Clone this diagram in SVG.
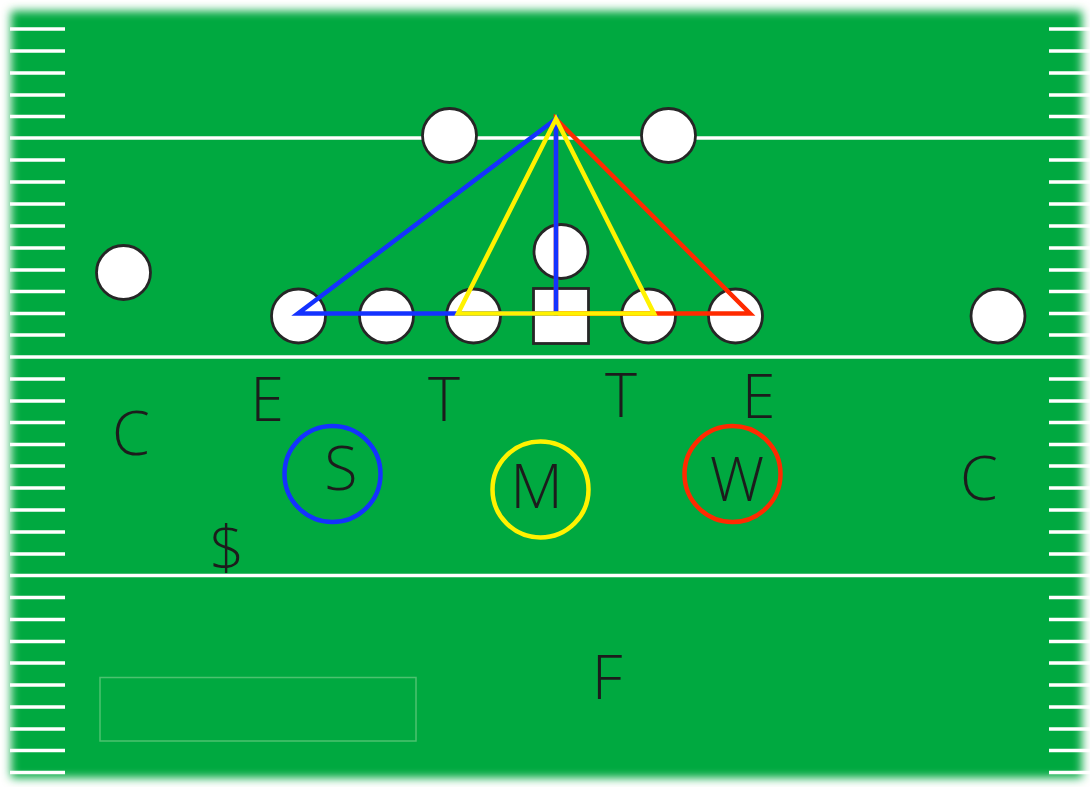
<svg xmlns="http://www.w3.org/2000/svg" width="1090" height="787" viewBox="0 0 1090 787">
<defs>
<filter id="blur" x="-5%" y="-5%" width="110%" height="110%"><feGaussianBlur stdDeviation="5"/></filter>
<style>
.hash{stroke:#fff;stroke-width:3.5}
.yard{stroke:#fff;stroke-width:3.5}
.pl{fill:#fff;stroke:#262626;stroke-width:2.8}
.lbl{font-family:"Open Sans","Liberation Sans",sans-serif;font-weight:300;font-size:61px;fill:#1c1c1c;text-anchor:middle}
.tri{fill:none;stroke-width:4.5;stroke-linejoin:miter}
.ring{fill:none;stroke-width:4.5}
</style>
</defs>
<rect width="1090" height="787" fill="#fff"/>
<rect x="11" y="11" width="1071" height="767" fill="#00A93F" filter="url(#blur)"/>
<g id="yardlines">
<line class="yard" x1="10" y1="138" x2="1090" y2="138"/>
<line class="yard" x1="10" y1="357" x2="1090" y2="357"/>
<line class="yard" x1="10" y1="575.5" x2="1090" y2="575.5"/>
</g>
<g id="hashes">
<path class="hash" d="M10 29H65M1049 29H1090M10 51H65M1049 51H1090M10 73H65M1049 73H1090M10 95H65M1049 95H1090M10 116.5H65M1049 116.5H1090M10 160H65M1049 160H1090M10 182H65M1049 182H1090M10 204H65M1049 204H1090M10 226H65M1049 226H1090M10 248H65M1049 248H1090M10 270H65M1049 270H1090M10 291.5H65M1049 291.5H1090M10 313.5H65M1049 313.5H1090M10 335H65M1049 335H1090M10 379H65M1049 379H1090M10 401H65M1049 401H1090M10 422.5H65M1049 422.5H1090M10 444.5H65M1049 444.5H1090M10 466H65M1049 466H1090M10 488H65M1049 488H1090M10 510H65M1049 510H1090M10 532H65M1049 532H1090M10 554H65M1049 554H1090M10 597.5H65M1049 597.5H1090M10 619.5H65M1049 619.5H1090M10 641.5H65M1049 641.5H1090M10 663H65M1049 663H1090M10 685H65M1049 685H1090M10 707H65M1049 707H1090M10 729H65M1049 729H1090M10 750.5H65M1049 750.5H1090M10 772.5H65M1049 772.5H1090"/>
</g>
<rect id="box" x="100" y="677.5" width="316" height="63.5" fill="none" stroke="#4cc26f" stroke-width="1.5"/>
<g id="offense">
<circle id="p-top-left" class="pl" cx="449.5" cy="135.5" r="27"/>
<circle id="p-top-right" class="pl" cx="668.5" cy="135.5" r="27"/>
<circle id="p-back" class="pl" cx="561" cy="251.5" r="27"/>
<circle id="p-wide-left" class="pl" cx="123.5" cy="272.5" r="27"/>
<circle id="p-e-left" class="pl" cx="298.5" cy="316" r="27"/>
<circle id="p-lg" class="pl" cx="386.5" cy="316" r="27"/>
<circle id="p-lt" class="pl" cx="473.5" cy="316" r="27"/>
<rect id="p-center" class="pl" x="533.5" y="288.5" width="55" height="55"/>
<circle id="p-rt" class="pl" cx="648.5" cy="316" r="27"/>
<circle id="p-rte" class="pl" cx="735.5" cy="316" r="27"/>
<circle id="p-wide-right" class="pl" cx="998" cy="316" r="27"/>
</g>
<g id="connectors">
<polygon class="tri" stroke="#FF2A00" points="556,119 750,313.5 556,313.5"/>
<polygon class="tri" stroke="#1432FF" points="556,119 298,313.5 556,313.5"/>
<polygon class="tri" stroke="#FFF200" points="556,119 458,313.5 654,313.5"/>
</g>
<g id="defense">
<text class="lbl" x="267" y="421">E</text>
<text class="lbl" x="444" y="421">T</text>
<text class="lbl" x="621" y="417">T</text>
<text class="lbl" x="758.5" y="418">E</text>
<text class="lbl" x="131" y="455">C</text>
<text class="lbl" x="979" y="500">C</text>
<text class="lbl" x="227" y="570">$</text>
<text class="lbl" x="607" y="699">F</text>
<g id="S"><circle class="ring" stroke="#1432FF" cx="332.5" cy="474" r="48"/><text class="lbl" x="341" y="490">S</text></g>
<g id="M"><circle class="ring" stroke="#FFF200" cx="540.5" cy="489.5" r="48"/><text class="lbl" x="536.5" y="508">M</text></g>
<g id="W"><circle class="ring" stroke="#FF2A00" cx="732.5" cy="474" r="48"/><text class="lbl" x="737" y="501">W</text></g>
</g>
</svg>
